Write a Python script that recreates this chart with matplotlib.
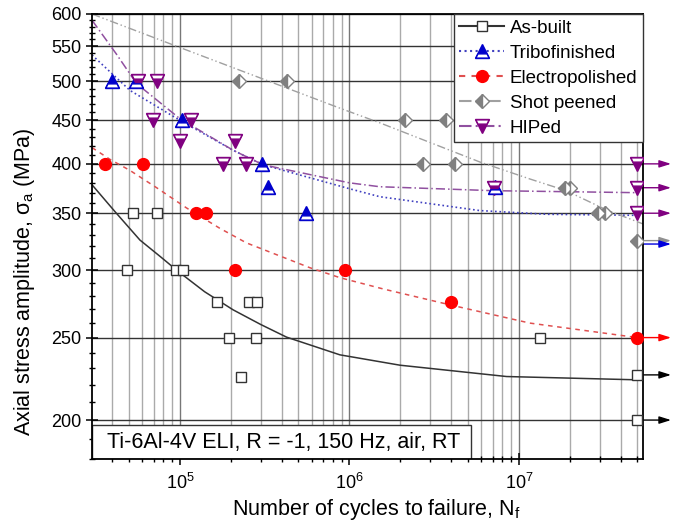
import matplotlib
matplotlib.use('Agg')
import matplotlib.pyplot as plt
from matplotlib.lines import Line2D
from matplotlib.patches import Rectangle
from matplotlib.path import Path
from matplotlib.legend_handler import HandlerTuple
from matplotlib.ticker import FixedLocator, NullFormatter, FuncFormatter, LogLocator

plt.rcParams['font.family'] = ['Liberation Sans', 'DejaVu Sans']
plt.rcParams['mathtext.default'] = 'regular'

# measured points (cycles, stress amplitude in MPa)
asbuilt_n = [48500, 52600, 72900, 94700, 104600, 164700, 193600, 228000,
             256500, 283500, 281000, 1.34e7, 5e7, 5e7]
asbuilt_s = [300, 350, 350, 300, 300, 275, 250, 225, 275, 275, 250, 250, 226, 200]

tribo_n = [39500, 55000, 103000, 306000, 329000, 553000, 7.2e6]
tribo_s = [500, 500, 450, 400, 376, 350, 376]

electro_n = [36100, 60800, 124000, 142000, 211000, 940000, 3.97e6, 5e7]
electro_s = [400, 400, 350, 350, 300, 300, 275, 250]

shot_n = [224000, 430000, 2.12e6, 3.71e6, 2.72e6, 4.19e6, 1.87e7, 2.0e7,
          2.94e7, 3.22e7, 5e7]
shot_s = [500, 500, 450, 450, 400, 400, 375, 375, 350, 350, 325]

hip_n = [56800, 73500, 69000, 116000, 100000, 211000, 180000, 245000,
         7.15e6, 5e7, 5e7, 5e7]
hip_s = [500, 500, 450, 450, 425, 425, 400, 400, 375, 400, 375, 350]

# fitted curves
asbuilt_fit_n = [3.03e4, 41350, 58100, 77000, 97700, 140000, 206000, 300000, 426000,
                 879000, 1.99e6, 8.46e6, 5e7]
asbuilt_fit_s = [378, 351.6, 325.5, 311, 299, 283, 269.5, 259, 250.3, 238.6, 232, 225, 223]

tribo_fit_n = [3.03e4, 50700, 1e5, 206000, 310000, 1e6, 1.51e6, 5.89e6, 1.46e7, 5e7]
tribo_fit_s = [537, 488, 450, 415, 399, 374, 366, 352.5, 349, 348]

electro_fit_n = [3.03e4, 38600, 50700, 72900, 109500, 172000, 247000, 585000,
                 879000, 1.6e6, 3.97e6, 1.16e7, 5e7]
electro_fit_s = [418, 405, 393, 375, 355, 336, 323, 302, 294, 285, 273, 260, 250]

shot_fit_n = [3.03e4, 1e5, 8.8e5, 1.51e6, 5.89e6, 1.16e7, 1.9e7, 3.3e7, 5.4e7]
shot_fit_s = [600, 548, 465, 447, 402, 384, 372, 353, 340]

hip_fit_n = [3.03e4, 42300, 55500, 1e5, 206000, 310000, 1e6, 1.51e6, 7.05e6, 5e7]
hip_fit_s = [590, 538, 497, 452, 415, 399, 380, 376, 372, 370]

# run-outs (arrows)
runout_s = [400, 375, 350, 325, 322, 250, 226, 200]
runout_col = ['#800080', '#800080', '#800080', '#909090', '#0000dd', 'red', 'black', 'black']

blue = '#0000cc'
purple = '#800080'
grey = '#808080'

# white bands for the half-filled triangles (same scale as '^' / 'v')
band_up = Path([(-1, -1), (1, -1), (0.68, -0.36), (-0.68, -0.36), (-1, -1)],
               [Path.MOVETO, Path.LINETO, Path.LINETO, Path.LINETO, Path.CLOSEPOLY])
band_down = Path([(-1, 1), (1, 1), (0.68, 0.36), (-0.68, 0.36), (-1, 1)],
                 [Path.MOVETO, Path.LINETO, Path.LINETO, Path.LINETO, Path.CLOSEPOLY])

fig = plt.figure(figsize=(6.79, 5.32), dpi=100)
ax = fig.add_axes([0.1355, 0.1372, 0.8115, 0.8365])

ax.plot(asbuilt_fit_n, asbuilt_fit_s, '-', color='#333333', lw=1.1, zorder=2)
ax.plot(tribo_fit_n, tribo_fit_s, ':', color='#4040c0', lw=1.2, zorder=2)
ax.plot(electro_fit_n, electro_fit_s, color='#e05050', lw=1.1, ls=(0, (3, 3)), zorder=2)
ax.plot(shot_fit_n, shot_fit_s, color='#a0a0a0', lw=1.0, ls=(0, (6, 2, 1, 2, 1, 2)), zorder=2)
ax.plot(hip_fit_n, hip_fit_s, color='#9050a0', lw=1.1, ls=(0, (6, 2, 1, 2)), zorder=2)

# run-out arrows
for s, c in zip(runout_s, runout_col):
    ax.annotate('', xy=(7.9e7, s), xytext=(5e7, s), annotation_clip=False,
                arrowprops=dict(arrowstyle='-|>,head_length=0.7,head_width=0.22',
                                color=c, lw=1.0, shrinkA=0, shrinkB=0), zorder=2)

ax.plot(asbuilt_n, asbuilt_s, 's', ms=7.5, mfc='white', mec='#333333', mew=1.0, zorder=3)
ax.plot(tribo_n, tribo_s, '^', ms=9.5, mfc=blue, mec=blue, mew=1.0, zorder=3)
ax.plot(tribo_n, tribo_s, ls='none', marker=band_up, ms=9.5, mfc='white', mec=blue,
        mew=1.0, zorder=3.1)
ax.plot(electro_n, electro_s, 'o', ms=8.5, color='red', mec='red', zorder=3)
ax.plot(shot_n, shot_s, 'D', ms=7, fillstyle='left', mfc=grey, mfcalt='white',
        mec=grey, mew=1.0, zorder=3)
ax.plot(hip_n, hip_s, 'v', ms=9.5, mfc=purple, mec=purple, mew=1.0, zorder=3)
ax.plot(hip_n, hip_s, ls='none', marker=band_down, ms=9.5, mfc='white', mec=purple,
        mew=1.0, zorder=3.1)

ax.set_xscale('log')
ax.set_yscale('log')
ax.set_xlim(3.03e4, 5.4e7)
ax.set_ylim(180, 600)

ax.xaxis.set_major_locator(LogLocator(base=10, numticks=10))
ax.xaxis.set_minor_locator(LogLocator(base=10, subs=range(2, 10), numticks=20))
ax.xaxis.set_minor_formatter(NullFormatter())

ax.yaxis.set_major_locator(FixedLocator(list(range(200, 601, 50))))
ax.yaxis.set_major_formatter(FuncFormatter(lambda v, p: '%d' % v))
ax.yaxis.set_minor_locator(FixedLocator([v for v in range(180, 601, 10) if v % 50]))
ax.yaxis.set_minor_formatter(NullFormatter())

ax.set_axisbelow(True)
ax.grid(which='major', axis='x', color='#777777', lw=1.0)
ax.grid(which='minor', axis='x', color='#aaaaaa', lw=1.0)
ax.grid(which='major', axis='y', color='#333333', lw=1.0)

ax.tick_params(which='major', direction='inout', length=8, width=1.1, labelsize=13,
               top=False, right=False)
ax.tick_params(which='minor', direction='inout', length=5, width=1.0,
               top=False, right=False)
ax.tick_params(axis='x', which='major', pad=6)
for sp in ax.spines.values():
    sp.set_linewidth(1.3)

ax.set_xlabel('Number of cycles to failure, N$_f$', fontsize=15.5)
ax.set_ylabel('Axial stress amplitude, $\\sigma_a$ (MPa)', fontsize=15.5)
ax.xaxis.set_label_coords(0.516, -0.085)
ax.yaxis.set_label_coords(-0.1, 0.398)

# condition box in the lower left
box = Rectangle((0, 0), 0.688, 0.0775, transform=ax.transAxes, facecolor='white',
                edgecolor='#333333', lw=1.0, zorder=1.5)
ax.add_patch(box)
ax.text(0.027, 0.038, 'Ti-6Al-4V ELI, R = -1, 150 Hz, air, RT', transform=ax.transAxes,
        fontsize=15.5, va='center', ha='left', zorder=4)

handles = [
    Line2D([], [], color='#333333', ls='-', marker='s', ms=7, mfc='white', mec='#333333'),
    (Line2D([], [], color='#4040c0', ls=':', marker='^', ms=9.5, mfc=blue, mec=blue),
     Line2D([], [], ls='none', marker=band_up, ms=9.5, mfc='white', mec=blue)),
    Line2D([], [], color='#e05050', ls=(0, (3, 3)), marker='o', ms=8.5, mfc='red', mec='red'),
    Line2D([], [], color='#a0a0a0', ls=(0, (6, 2, 1, 2, 1, 2)), marker='D', ms=7,
           fillstyle='left', mfc=grey, mfcalt='white', mec=grey),
    (Line2D([], [], color='#9050a0', ls=(0, (6, 2, 1, 2)), marker='v', ms=9.5,
            mfc=purple, mec=purple),
     Line2D([], [], ls='none', marker=band_down, ms=9.5, mfc='white', mec=purple)),
]
labels = ['As-built', 'Tribofinished', 'Electropolished', 'Shot peened', 'HIPed']
leg = ax.legend(handles, labels, loc='upper right', fontsize=13.5, frameon=True,
                fancybox=False, framealpha=1, edgecolor='#333333', borderaxespad=0,
                handlelength=2.4, handletextpad=0.3, labelspacing=0.42, borderpad=0.3,
                handler_map={tuple: HandlerTuple(ndivide=1, pad=0)})
leg.get_frame().set_linewidth(1.0)
leg.set_zorder(5)

fig.savefig('out.png', dpi=100)
